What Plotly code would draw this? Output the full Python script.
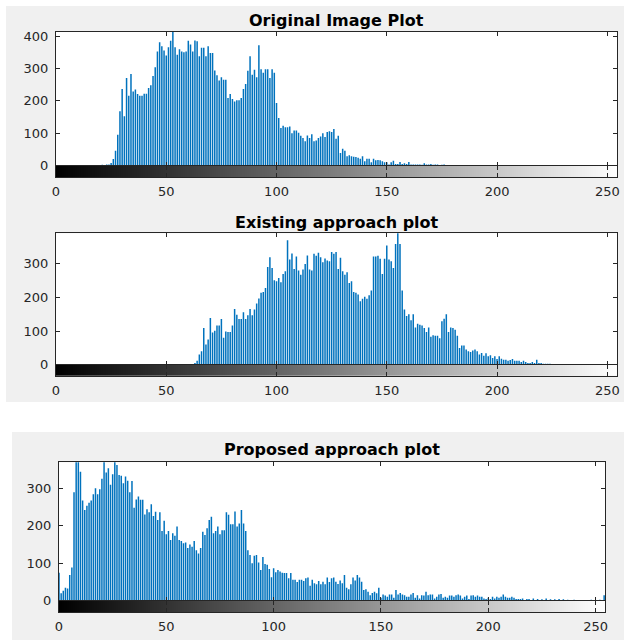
import plotly.graph_objects as go

W, H = 624, 640

bins = list(range(256))
gray_levels = list(range(256))
x_ticks = [0, 50, 100, 150, 200, 250]

titles = ["Original Image Plot", "Existing approach plot", "Proposed approach plot"]

original = (
    [0] * 21 +
    [2, 0, 3, 3,
     8, 20, 46, 95, 168, 237, 152, 271, 216, 283,
     229, 235, 221, 216, 216, 222, 222, 240, 248, 277,
     304, 353, 381, 369, 356, 340, 366, 386, 413, 366,
     343, 360, 353, 350, 353, 386, 374, 353, 387, 384,
     338, 364, 364, 338, 369, 348, 348, 294, 279, 263,
     273, 265, 265, 209, 221, 206, 198, 202, 202, 209,
     237, 252, 293, 338, 281, 296, 273, 372, 298, 287,
     298, 298, 271, 298, 287, 193,
     147, 116, 123, 118, 118, 121, 100, 108, 108, 101,
     92, 85, 75, 93, 85, 97, 75, 77, 85, 90,
     100, 88, 104, 106, 104, 113, 83, 92, 39, 52,
     46, 29, 32, 29, 27, 26, 24, 21, 29, 13,
     21, 21, 10, 21, 16, 17, 16, 13, 10, 10,
     3, 10, 15, 5, 5, 11, 5, 7, 5, 11,
     3, 3, 3, 3, 3, 2, 7, 3, 3, 5,
     2, 3, 3, 1, 2, 3] +
    [0] * 79
)

existing = (
    [0] * 63 +
    [5, 12, 30, 40, 109, 60, 75, 139, 96, 101,
     117, 117, 136, 80, 99, 97, 97, 117, 166, 149,
     136, 136, 156, 136, 147, 166, 147, 164, 182, 197,
     214, 216, 228, 291, 320, 288, 251, 248, 258, 245,
     270, 278, 370, 313, 331, 285, 322, 280, 268, 283,
     300, 325, 283, 280, 330, 324, 333, 320, 305, 316,
     310, 308, 335, 330, 335, 285, 318, 278, 268, 275,
     243, 248, 216, 214, 209, 189, 196, 202, 196, 207,
     221, 322, 322, 324, 315, 270, 315, 355, 313, 308,
     288, 359, 400, 359, 221, 164, 145, 150, 132, 150,
     111, 122, 119, 117, 109, 97, 111, 83, 88, 86,
     86, 79, 129, 137, 150, 97, 111, 109, 104, 86,
     50, 57, 57, 45, 40, 38, 42, 45, 40, 30,
     35, 27, 34, 25, 28, 20, 25, 17, 25, 18,
     15, 15, 12, 14, 17, 12, 12, 12, 8, 12,
     8, 5, 5, 8, 5, 15, 5, 5, 3, 3,
     3, 3] +
    [0] * 31
)

proposed = [
    75, 20, 27, 35, 33, 69, 89, 289, 380, 375,
    344, 267, 242, 253, 261, 267, 284, 300, 284, 297,
    325, 372, 342, 353, 309, 337, 372, 362, 335, 333,
    313, 331, 320, 289, 319, 248, 270, 278, 269, 269,
    230, 244, 236, 257, 226, 237, 215, 236, 186, 213,
    177, 186, 162, 180, 173, 198, 162, 159, 153, 155,
    141, 150, 144, 159, 135, 126, 141, 184, 175, 193,
    215, 224, 180, 186, 198, 177, 188, 188, 236, 229,
    204, 204, 238, 198, 206, 242, 206, 186, 135, 122,
    100, 120, 122, 102, 82, 117, 98, 96, 85, 63,
    87, 76, 82, 78, 75, 74, 74, 60, 74, 56,
    56, 50, 56, 56, 53, 60, 62, 40, 56, 47,
    44, 53, 44, 51, 44, 62, 50, 60, 62, 51,
    45, 54, 47, 69, 35, 31, 44, 62, 54, 69,
    62, 51, 29, 31, 24, 15, 21, 24, 20, 35,
    8, 17, 14, 11, 17, 17, 8, 29, 17, 21,
    17, 15, 11, 11, 17, 21, 8, 15, 6, 15,
    14, 24, 15, 17, 17, 6, 11, 17, 18, 8,
    11, 8, 14, 14, 11, 15, 17, 14, 6, 11,
    14, 5, 14, 15, 11, 14, 11, 11, 6, 5,
    8, 5, 11, 6, 11, 8, 11, 17, 11, 8,
    8, 11, 8, 5, 5, 5, 6, 0, 5, 5,
    0, 6, 0, 5, 0, 4, 0, 6, 0, 4,
    0, 4, 0, 5, 0, 4, 0, 3, 0, 0,
    3, 0, 0, 0, 0, 0, 0, 0, 3, 0,
    0, 0, 3, 0, 15, 0,
]

series = [original, existing, proposed]
y_max = [413, 391, 369]
y_ticks = [[0, 100, 200, 300, 400], [0, 100, 200, 300], [0, 100, 200, 300]]

# layout geometry in pixels: (left, right, hist_top, hist_bottom, cbar_bottom, title_y)
panels = [
    (56, 617, 32, 165.5, 177, 20.5),
    (56, 617, 233.3, 364.7, 376, 222),
    (59, 605, 462.3, 600.8, 612.3, 449.5),
]

def px(x):
    return x / W

def py(y):
    return 1 - y / H

def stems(xs, ys):
    """Build stem segments (x, x, None) / (0, y, None) from the data lists."""
    sx, sy = [], []
    for a, b in zip(xs, ys):
        if b > 0:
            sx += [a, a, None]
            sy += [0, b, None]
    return sx, sy

AX = "#262626"
tick_font = dict(family="DejaVu Sans", size=13, color=AX)

fig = go.Figure()
shapes = [
    dict(type="rect", xref="paper", yref="paper", x0=px(6), x1=px(624), y0=py(402), y1=py(6),
         fillcolor="#f0f0f0", line_width=0, layer="below"),
    dict(type="rect", xref="paper", yref="paper", x0=px(12), x1=px(624), y0=py(640), y1=py(432),
         fillcolor="#f0f0f0", line_width=0, layer="below"),
]
annotations = []
layout_axes = {}

def sfx(n):
    return "" if n == 1 else str(n)

for i, (vals, (l, r, top, bot, cbot, ty)) in enumerate(zip(series, panels)):
    hx = hy = 2 * i + 1
    cx = cy = 2 * i + 2
    sx, sy = stems(bins, vals)
    fig.add_trace(go.Scatter(
        x=sx, y=sy, mode="lines", line=dict(color="#0072BD", width=1.5),
        xaxis="x" + sfx(hx), yaxis="y" + sfx(hy), showlegend=False, hoverinfo="skip",
    ))
    fig.add_trace(go.Heatmap(
        z=[gray_levels], x=bins, y=[0],
        colorscale=[[0, "#000000"], [1, "#ffffff"]], zmin=0, zmax=255,
        showscale=False, xaxis="x" + sfx(cx), yaxis="y" + sfx(cy), hoverinfo="skip",
    ))
    shapes.append(dict(type="rect", xref="paper", yref="paper", x0=px(l), x1=px(r),
                       y0=py(bot), y1=py(top), fillcolor="white", line_width=0, layer="below"))
    common = dict(showline=True, linecolor=AX, linewidth=1, mirror="ticks", ticks="inside",
                  ticklen=4, tickcolor=AX, showgrid=False, zeroline=False, tickfont=tick_font,
                  automargin=False)
    layout_axes["xaxis" + sfx(hx)] = dict(
        domain=[px(l), px(r)], anchor="y" + sfx(hy), range=[0, 254.4],
        tickvals=x_ticks, showticklabels=False, **common)
    layout_axes["yaxis" + sfx(hy)] = dict(
        domain=[py(bot), py(top)], anchor="x" + sfx(hx), range=[0, y_max[i]],
        tickvals=y_ticks[i], ticklabelstandoff=4, **common)
    layout_axes["xaxis" + sfx(cx)] = dict(
        domain=[px(l), px(r)], anchor="y" + sfx(cy), range=[0, 254.4],
        tickvals=x_ticks, ticklabelstandoff=2, **common)
    layout_axes["yaxis" + sfx(cy)] = dict(
        domain=[py(cbot), py(bot)], anchor="x" + sfx(cx), range=[-0.5, 0.5],
        showline=True, linecolor=AX, linewidth=1, mirror=True, ticks="",
        showticklabels=False, showgrid=False, zeroline=False, automargin=False)
    annotations.append(dict(
        text="<b>" + titles[i] + "</b>", xref="paper", yref="paper",
        x=px((l + r) / 2), y=py(ty), xanchor="center", yanchor="middle",
        showarrow=False, font=dict(family="DejaVu Sans", size=16, color="#000000")))

fig.update_layout(
    width=W, height=H, margin=dict(l=0, r=0, t=0, b=0, pad=0, autoexpand=False),
    paper_bgcolor="white", plot_bgcolor="rgba(0,0,0,0)",
    shapes=shapes, annotations=annotations, **layout_axes,
)

fig.write_html(
    "out.html",
    config={"displayModeBar": False},
    post_script="document.body.style.margin='0';document.body.style.overflow='hidden';",
)
